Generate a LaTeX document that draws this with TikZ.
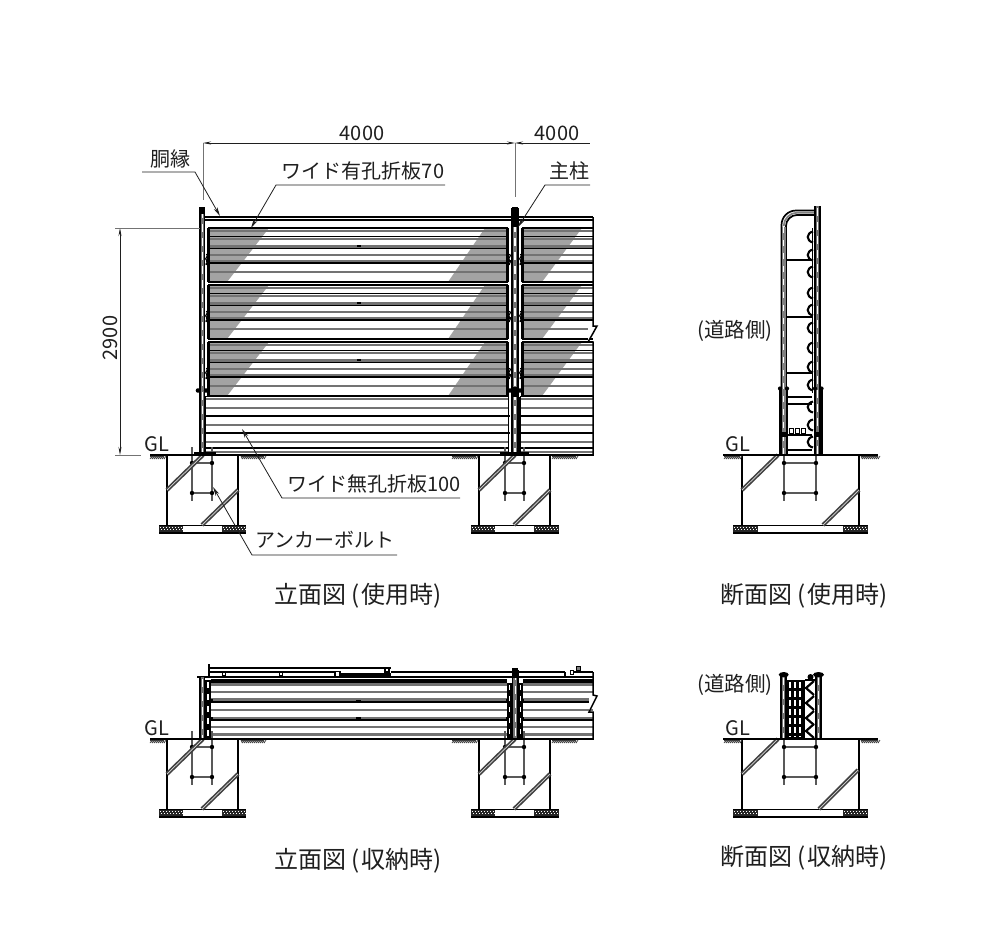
\documentclass[tikz,border=0pt]{standalone}
\usepackage{fontspec}
\setmainfont{Noto Sans CJK JP}
\usetikzlibrary{arrows.meta}
\definecolor{ink}{gray}{0.12}
\definecolor{bandgray}{gray}{0.45}
\definecolor{holegray}{gray}{0.64}
\tikzset{
  lbl/.style={font=\fontsize{20}{24}\selectfont,text=ink,inner sep=0pt},
  roadtext/.style={font=\fontsize{20.5}{24}\selectfont,text=ink,inner sep=0pt},
  captiontext/.style={font=\fontsize{24}{28}\selectfont,text=ink,inner sep=0pt},
  dimarrow/.style={line width=0.8pt,draw=ink,{Stealth[length=8pt,width=3pt]}-{Stealth[length=8pt,width=3pt]}},
  extline/.style={line width=0.8pt,draw=black!55},
  leader/.style={line width=0.8pt,draw=ink,-{Stealth[length=9pt,width=4pt]}},
  wall/.style={line width=1.8pt,draw=black},
  heavy/.style={line width=2.6pt,draw=black},
  blk/.style={line width=1.4pt,draw=black},
  gry/.style={line width=2.8pt,draw=bandgray},
  rebar/.style={line width=2.4pt,draw=black!65},
  tie/.style={line width=1.1pt,draw=black!65}
}
\newcommand{\hdiag}[4]{%
  \draw[line width=4pt,draw=black!75] (#1,#2) -- (#3,#4);
  \draw[line width=0.7pt,draw=black!15] (#1,#2) -- (#3,#4);}
\newcommand{\ghatch}[3]{%
  \draw[line width=0.5pt,draw=black!80] (#1,#3+1) -- (#2,#3+1);
  \foreach \q in {#1,...,#2}{\ifodd\q\relax\draw[line width=0.7pt,draw=black!75] (\q,#3+1) -- (\q+1.5,#3+4);\else\draw[line width=0.7pt,draw=black!75] (\q+2,#3+1) -- (\q,#3+4);\fi}}
\newcommand{\gravel}[3]{% x1 x2 dy
  \fill[black!85] (#1,#3+525.5) rectangle (#2,#3+532);
  \foreach \q in {0,3,...,21}{\ifdim\q pt<\dimexpr #2pt-#1pt-2pt\relax
    \fill[white] (#1+\q+1,#3+526.8) rectangle ++(1.1,1.1);
    \fill[white] (#1+\q+2,#3+529.3) rectangle ++(1.1,1.1);\fi}}
% xL xR gravelL gravelInL gravelInR gravelR bar1 bar2 dy
\newcommand{\foundation}[9]{%
  \draw[wall] (#1,#9+455) -- (#1,#9+525);
  \draw[wall] (#2,#9+455) -- (#2,#9+525);
  \draw[line width=1pt] (#3,#9+525) -- (#6,#9+525);
  \draw[line width=1.9pt] (#3,#9+533) -- (#6,#9+533);
  \gravel{#3}{#4}{#9}\gravel{#5}{#6}{#9}
  \draw[rebar] (#7,#9+447) -- (#7,#9+501);
  \draw[rebar] (#8,#9+447) -- (#8,#9+501);
  \draw[tie] (#7,#9+463) -- (#8,#9+463);
  \draw[tie] (#7,#9+493) -- (#8,#9+493);
  \foreach \u in {#7,#8}{\fill[black] (\u,#9+463) circle[radius=2.2];
     \fill[black] (\u,#9+493) circle[radius=2.2];}
  \hdiag{#1}{#9+490}{#1+36}{#9+455}}
% upper stripes of a panel: x1 x2 top
\newcommand{\stripes}[3]{%
  \draw[gry,line width=2.2pt] (#1,#3+2.6) -- (#2,#3+2.6);
  \draw[gry,line width=2pt] (#1,#3+10.6) -- (#2,#3+10.6);
  \draw[blk,line width=1.3pt] (#1,#3+8.8) -- (#2,#3+8.8);
  \draw[gry] (#1,#3+18.8) -- (#2,#3+18.8);
  \draw[blk,line width=1.1pt] (#1,#3+20.6) -- (#2,#3+20.6);
  \draw[gry] (#1,#3+27) -- (#2,#3+27);
  \draw[gry,line width=2pt] (#1,#3+33.4) -- (#2,#3+33.4);
  \draw[blk] (#1,#3+35) -- (#2,#3+35);
  \draw[gry] (#1,#3+44) -- (#2,#3+44);
  \draw[heavy] (#1,#3) -- (#2,#3);
  \draw[heavy] (#1,#3+54) -- (#2,#3+54);}
\newcommand{\lowstripes}[2]{% x1 x2
  \draw[blk] (#1,396.5) -- (#2,396.5);
  \draw[gry,line width=1.8pt] (#1,398.6) -- (#2,398.6);
  \draw[gry] (#1,408) -- (#2,408);
  \draw[blk,line width=1.2pt] (#1,416) -- (#2,416);
  \draw[gry] (#1,425) -- (#2,425);
  \draw[blk,line width=1.2pt] (#1,433) -- (#2,433);
  \draw[gry] (#1,442) -- (#2,442);
  \draw[blk,line width=1.2pt] (#1,448) -- (#2,448);
  \draw[gry,line width=2pt] (#1,451.5) -- (#2,451.5);}
\newcommand{\storestripes}[2]{%
  \draw[heavy,line width=3.4pt] (#1,681) -- (#2,681);
  \draw[gry] (#1,684.5) -- (#2,684.5);
  \draw[gry] (#1,692) -- (#2,692);
  \draw[gry] (#1,699.6) -- (#2,699.6);
  \draw[blk,line width=1.2pt] (#1,702) -- (#2,702);
  \draw[gry] (#1,710) -- (#2,710);
  \draw[gry,line width=2pt] (#1,717.6) -- (#2,717.6);
  \draw[blk,line width=1.2pt] (#1,720) -- (#2,720);
  \draw[gry] (#1,727) -- (#2,727);
  \draw[gry,line width=3pt] (#1,734) -- (#2,734);}
% post: x1 x2 y1 y2
\newcommand{\post}[4]{%
  \fill[black!55] (#1,#3) rectangle (#2,#4);
  \draw[line width=1.7pt,draw=black] (#1,#3) -- (#1,#4) (#2,#3) -- (#2,#4);
  \draw[line width=1.3pt,draw=white,dash pattern=on 8pt off 6pt] ({(#1+#2)/2},#3+2) -- ({(#1+#2)/2},#4);}
\newcommand{\pclip}[2]{% x y : connector squiggle
  \draw[line width=1.2pt,draw=black] (#1,#2-5) .. controls (#1+3,#2-3) and (#1-3,#2) .. (#1,#2+1) .. controls (#1+3,#2+3) and (#1-2,#2+5) .. (#1,#2+6);
  \fill[black] (#1-1,#2+1) rectangle ++(2.4,2);}
\newcommand{\bump}[1]{% section scallop at y
  \draw[line width=2.1pt,draw=black] (813,#1-5.5) .. controls (806,#1-4) and (806,#1+4) .. (813,#1+5.5);}
\begin{document}
\begin{tikzpicture}[x=1pt,y=-1pt,line cap=butt]
\useasboundingbox (0,0) rectangle (1004,945);
\fill[white] (0,0) rectangle (1004,945);

% ---------- upper elevation ----------
\foreach \t in {228,285,342}{
  \fill[holegray] (209,\t) -- (269,\t) -- (227,\t+54) -- (209,\t+54) -- cycle;
  \fill[holegray] (485,\t) -- (507,\t) -- (507,\t+54) -- (448,\t+54) -- cycle;
  \fill[holegray] (523,\t) -- (582,\t) -- (542,\t+54) -- (523,\t+54) -- cycle;
  \stripes{208}{508}{\t}
  \stripes{522}{593}{\t}
  \draw[heavy] (208.7,\t) -- (208.7,\t+54);
  \draw[heavy] (507.3,\t) -- (507.3,\t+54);
  \draw[heavy] (522.7,\t) -- (522.7,\t+54);
  \foreach \d in {18,35}{\fill[black] (356.5,\t+\d-1) rectangle ++(4,2);}
  \pclip{206.5}{\t+31}
  \pclip{509.5}{\t+31}
  \pclip{520.5}{\t+31}
}
\lowstripes{205}{509}
\lowstripes{520}{593}
\foreach \d in {416,433}{\fill[black] (356.5,\d-1) rectangle ++(4,2);}
% rail and right edge
\draw[line width=1.4pt] (205,217) -- (593,217);
\draw[line width=1.4pt] (205,220) -- (593,220);
\fill[white] (588,326.8) -- (597,326.8) -- (592,335) -- (588,341.2) -- cycle;
\draw[line width=1.5pt] (593,217) -- (593,326) -- (597,326) -- (592,335) -- (588,342) -- (593,342) -- (593,454);
% posts
\post{199.8}{204.5}{208}{454}
\fill[black] (199,207) rectangle (205,214);
\draw[line width=1.8pt] (205.5,397) -- (205.5,453);
\foreach \x in {198,206}{\fill[black] (\x,390.5) circle[radius=2.3];}
\post{512}{518}{208}{454}
\fill[black] (512,207) rectangle (518,227);
\fill[black] (512,387) rectangle (518,397);
\draw[line width=1.9pt] (508.5,397) -- (508.5,453) (520,397) -- (520,453);
\foreach \y in {416,433}{\fill[black] (507,\y-1) rectangle ++(3,2);\fill[black] (519,\y-1) rectangle ++(3,2);}
\foreach \x in {510,520}{\fill[black] (\x,390.5) circle[radius=2.3];}

% ---------- foundations, upper row ----------
\foundation{167}{238}{159}{183}{222}{246}{192}{212}{0}
\hdiag{202}{525}{238}{490}
\foundation{479}{550}{471}{495}{534}{559}{505}{524}{0}
\hdiag{514}{525}{550}{490}
\foundation{742}{859}{733}{758}{843}{868}{784}{816}{0}
\hdiag{823}{525}{859}{490}
\draw[line width=2.5pt] (167,455) -- (238,455);
\draw[line width=2.5pt] (200,455) -- (594,455);
\draw[line width=2.5pt] (723,455) -- (878,455);
\draw[line width=1.3pt] (150,455) -- (167,455);
\fill[black] (194,452) rectangle (216,455);
\fill[black] (500,452) rectangle (529,455);
\ghatch{150}{164}{455}\ghatch{241}{264}{455}\ghatch{452}{476}{455}\ghatch{552}{576}{455}
\ghatch{724}{740}{455}\ghatch{861}{878}{455}

% ---------- upper section ----------
\draw[line width=1.7pt] (781.5,454) -- (781.5,225) .. controls (781.5,217) and (788,210.5) .. (796,210.5) -- (815,210.5);
\draw[line width=1.7pt] (786,454) -- (786,226) .. controls (786,220) and (791,215) .. (797,215) -- (815,215);
\fill[black!50] (782,227) rectangle (785.5,454);
\draw[line width=1.3pt,draw=white,dash pattern=on 6pt off 7pt] (783.7,454) -- (783.7,227);
\draw[line width=1.8pt,draw=black!50] (783.7,226) .. controls (783.7,219) and (790,212.7) .. (797,212.7) -- (815,212.7);
\post{815}{820}{206}{454}
\foreach \y in {237,255,272,293,310,328,348,367,385,407,425,442}{\bump{\y}}
\draw[line width=1.5pt] (812.7,228) -- (812.7,393);
\foreach \y/\w in {260/1.8,317/1.3,373/1.3,397/1.3,404/2,435/1.7,450/1.3}{\draw[line width=\w pt] (786,\y) -- (812,\y);}
\draw[line width=1.9pt] (779.8,388) -- (779.8,454) (787,388) -- (787,454) (814.5,388) -- (814.5,454) (821.8,388) -- (821.8,454);
\foreach \x in {780,787,815,821.5}{\fill[black] (\x,388.5) circle[radius=2.1];}
\foreach \x in {789,795,801}{\draw[line width=0.8pt] (\x,428.5) rectangle ++(4.4,4.4);}
\fill[black] (779,432) rectangle (788,437);\fill[black] (814,432) rectangle (823,437);

% ---------- lower elevation ----------
\storestripes{211}{507}
\storestripes{523}{593}
\foreach \d in {701,718}{\fill[black] (356,\d-1.5) rectangle ++(5,3);}
\draw[line width=1.4pt] (209,664) -- (209,678);
\draw[line width=1.4pt] (209,668) -- (391,668);
\draw[line width=1.1pt] (209,672) -- (337,672);
\draw[line width=2.2pt] (339,674.5) -- (391,674.5);
\draw[line width=1.1pt] (391,672) -- (565,672);
\draw[line width=1.9pt] (197,677) -- (593,677);
\draw[line width=1.1pt] (565,672) -- (565,677) (570,672) -- (593,672);
\fill[white] (589,695.8) -- (597,695.8) -- (589,712) -- cycle;
\draw[line width=1.5pt] (593,672) -- (593,695) -- (597,696) -- (589,712) -- (593,712) -- (593,738);
\foreach \x in {224,281}{\draw[line width=0.8pt,fill=white] (\x-1.5,672) rectangle ++(3,3);}
\draw[line width=1.3pt,fill=white] (335,671.5) rectangle ++(5,5);
\draw[line width=1.3pt,fill=white] (385,668) rectangle ++(4,4);
\draw[line width=0.8pt,fill=white] (570,670.5) rectangle ++(3.5,3.5);
\draw[line width=0.8pt,fill=black!50] (576,666.5) rectangle ++(4,3.5);
% stored posts
\post{199.8}{204.5}{677}{738}
\fill[black] (205,680) rectangle (211,738);
\draw[line width=1.1pt,draw=white,dash pattern=on 6pt off 6pt] (208,682) -- (208,738);
\foreach \y in {700,718}{\fill[black] (210,\y-1) rectangle ++(3,2);}
\post{512.5}{518}{670}{738}
\fill[black] (512,668) rectangle (518,678);
\fill[black] (507,683) rectangle (512,738);\fill[black] (518,683) rectangle (523,738);
\draw[line width=0.9pt,draw=white,dash pattern=on 5pt off 6pt] (509.5,685) -- (509.5,735) (520.5,685) -- (520.5,735);
\foreach \y in {700,718}{\fill[black] (506,\y-1) rectangle ++(2,2);\fill[black] (522,\y-1) rectangle ++(2,2);}

% ---------- foundations, lower row ----------
\foundation{167}{238}{159}{183}{222}{246}{192}{212}{284}
\hdiag{202}{809}{238}{774}
\foundation{479}{550}{471}{495}{534}{559}{505}{524}{284}
\hdiag{514}{809}{550}{774}
\foundation{742}{859}{733}{758}{843}{868}{784}{816}{284}
\hdiag{819}{809}{858}{770}
\draw[line width=2.5pt] (150,739) -- (594,739);
\draw[line width=2.5pt] (723,739) -- (878,739);
\ghatch{150}{164}{739}\ghatch{241}{264}{739}\ghatch{452}{476}{739}\ghatch{552}{576}{739}
\ghatch{724}{740}{739}\ghatch{861}{878}{739}

% ---------- lower section ----------
\post{781}{786}{675}{738}
\post{816}{821}{675}{738}
\fill[black] (783.7,674.7) ellipse[x radius=5,y radius=2.7];
\fill[black] (818.5,674.7) ellipse[x radius=5.5,y radius=2.7];
\fill[black] (787,680) rectangle (805,738);
\foreach \x in {790,795,800}{\draw[line width=1.3pt,draw=white,dash pattern=on 6pt off 3pt] (\x,682) -- (\x,737);}
\foreach \y in {681,696,711,724}{\draw[line width=2.2pt] (814,\y) -- (806,\y+7) -- (814,\y+14);}
\fill[black] (810.5,677) circle[radius=3];
\draw[line width=1.3pt] (805,680) -- (815,680);

% ---------- dimensions and text ----------
\coordinate (d1l) at (203,143);\coordinate (d1r) at (515,143);\coordinate (d2r) at (590,143);
\coordinate (e1b) at (203,200);\coordinate (e2b) at (515,197);
\draw[dimarrow] (d1l) -- (d1r);
\draw[line width=0.8pt,{Stealth[length=8pt,width=3pt]}-,draw=ink] (d1r) -- (d2r);
\draw[extline] (d1l) -- (e1b);
\draw[extline] (d1r) -- (e2b);
\coordinate (v1t) at (120,228);\coordinate (v1b) at (120,455);
\coordinate (h1e) at (200,228);\coordinate (h2e) at (141,455);
\coordinate (h1s) at (115,228);\coordinate (h2s) at (115,455);
\draw[dimarrow] (v1t) -- (v1b);
\draw[extline] (h1s) -- (h1e);
\draw[extline] (h2s) -- (h2e);

\node[lbl] (t4000a) at (362,133) {4000};
\node[lbl] (t4000b) at (557,133) {4000};
\node[lbl] (tdoub) at (170,159) {胴縁};
\node[lbl] (thole) at (363,171) {ワイド有孔折板70};
\node[lbl] (tmain) at (569,171) {主柱};
\node[lbl,rotate=90] (t2900) at (110,338) {2900};
\node[lbl] (tgl1) at (157,444) {GL};
\node[lbl] (tgl2) at (738,444) {GL};
\node[lbl] (tgl3) at (157,728) {GL};
\node[lbl] (tgl4) at (738,728) {GL};
\node[lbl] (tnohole) at (374,484) {ワイド無孔折板100};
\node[lbl] (tanchor) at (325,540) {アンカーボルト};
\node[roadtext] (troad1) at (735,331) {(道路側)};
\node[roadtext] (troad2) at (735,685) {(道路側)};
\node[captiontext] (c1) at (358.5,596) {立面図\hspace{5pt}(\hspace{1pt}使用時\hspace{1pt})};
\node[captiontext] (c2) at (804.5,596) {断面図\hspace{5pt}(\hspace{1pt}使用時\hspace{1pt})};
\node[captiontext] (c3) at (358.5,861) {立面図\hspace{5pt}(\hspace{1pt}収納時\hspace{1pt})};
\node[captiontext] (c4) at (804.5,858) {断面図\hspace{5pt}(\hspace{1pt}収納時\hspace{1pt})};

\coordinate (a1) at (220,216);\coordinate (a1k) at (195,172);\coordinate (a1s) at (142,172);
\coordinate (a2) at (251,228);\coordinate (a2k) at (276,185);\coordinate (a2e) at (445,185);
\coordinate (a3) at (518,227);\coordinate (a3k) at (545,185);\coordinate (a3e) at (590,185);
\coordinate (a4) at (242,429);\coordinate (a4k) at (282,498);\coordinate (a4e) at (460,498);
\coordinate (a5) at (213,487);\coordinate (a5k) at (252,555);\coordinate (a5e) at (397,555);
\draw[leader] (a1s) -- (a1k) -- (a1);
\draw[leader] (a2e) -- (a2k) -- (a2);
\draw[leader] (a3e) -- (a3k) -- (a3);
\draw[leader] (a4e) -- (a4k) -- (a4);
\draw[leader] (a5e) -- (a5k) -- (a5);
\end{tikzpicture}
\end{document}
